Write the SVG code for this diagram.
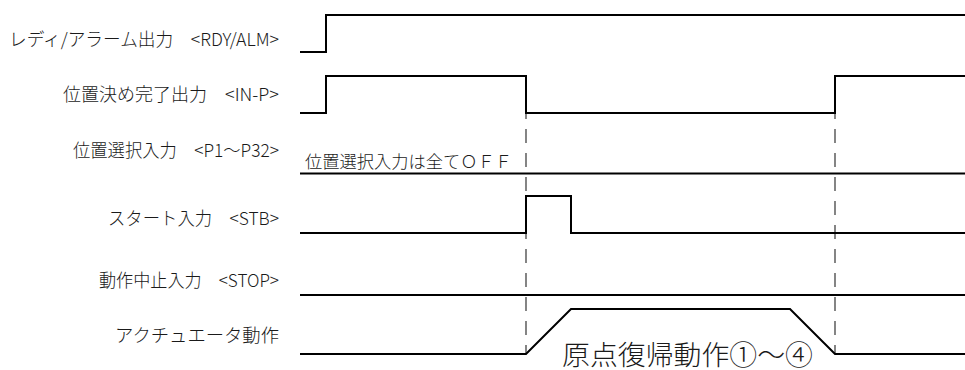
<svg xmlns="http://www.w3.org/2000/svg" width="965" height="370" viewBox="0 0 965 370">
<style>
.lbl{font-family:"Noto Sans CJK JP","DejaVu Sans",sans-serif;font-size:18px;font-weight:300;fill:#1a1a1a;text-anchor:end;dominant-baseline:central}
.note{font-family:"Noto Sans CJK JP","DejaVu Sans",sans-serif;font-size:17px;font-weight:300;fill:#1a1a1a;dominant-baseline:central}
.big{font-family:"Liberation Serif","Noto Sans CJK JP",serif;font-size:27px;font-weight:300;fill:#1a1a1a}
.sig{fill:none;stroke:#000;stroke-width:2}
.guide{fill:none;stroke:#444;stroke-width:1.3;stroke-dasharray:14 10;stroke-dashoffset:9}
</style>
<rect width="965" height="370" fill="#fff"/>
<g id="guides">
<line class="guide" x1="526" y1="114" x2="526" y2="354"/>
<line class="guide" x1="835" y1="114" x2="835" y2="354"/>
</g>
<g id="row-rdy">
<text class="lbl" x="279" y="37.5" textLength="270" lengthAdjust="spacingAndGlyphs">レディ/アラーム出力　&lt;RDY/ALM&gt;</text>
<path class="sig" d="M300,52 H326 V15 H965"/>
</g>
<g id="row-inp">
<text class="lbl" x="279" y="92.5" textLength="216" lengthAdjust="spacingAndGlyphs">位置決め完了出力　&lt;IN-P&gt;</text>
<path class="sig" d="M300,113 H326 V76 H526 V113 H835 V76 H965"/>
</g>
<g id="row-p">
<text class="lbl" x="279" y="148.5" textLength="206" lengthAdjust="spacingAndGlyphs">位置選択入力　&lt;P1～P32&gt;</text>
<text class="note" x="305" y="160" textLength="207" lengthAdjust="spacingAndGlyphs">位置選択入力は全てＯＦＦ</text>
<path class="sig" d="M300,173.5 H965"/>
</g>
<g id="row-stb">
<text class="lbl" x="279" y="217" textLength="171" lengthAdjust="spacingAndGlyphs">スタート入力　&lt;STB&gt;</text>
<path class="sig" d="M300,233 H526 V196 H571 V233 H965"/>
</g>
<g id="row-stop">
<text class="lbl" x="279" y="279" textLength="180" lengthAdjust="spacingAndGlyphs">動作中止入力　&lt;STOP&gt;</text>
<path class="sig" d="M300,295 H965"/>
</g>
<g id="row-act">
<text class="lbl" x="279" y="334" textLength="164" lengthAdjust="spacingAndGlyphs">アクチュエータ動作</text>
<path class="sig" d="M300,354 H526 L571,309 H790 L835,354 H965"/>
<text class="big" x="562" y="365" textLength="251" lengthAdjust="spacingAndGlyphs">原点復帰動作①～④</text>
</g>
</svg>
